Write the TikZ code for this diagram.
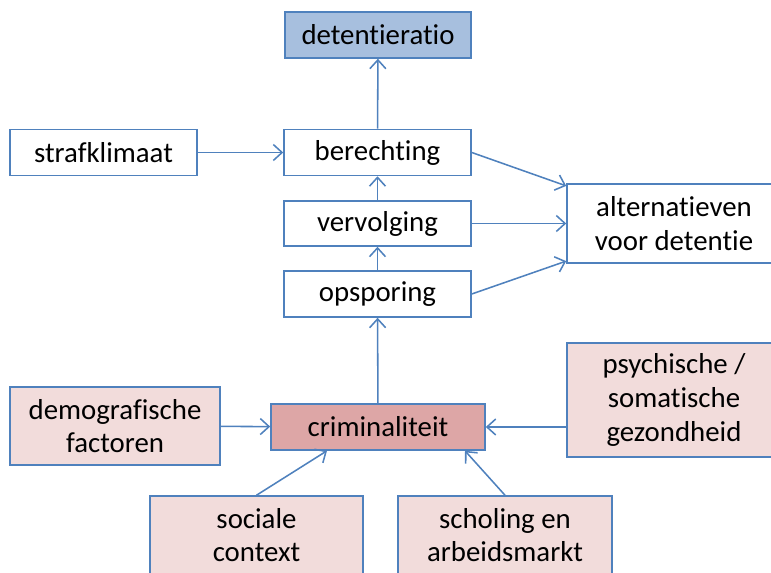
\documentclass[tikz,border=0pt]{standalone}
\usepackage{fontspec}
\setmainfont{Carlito}[Ligatures=NoCommon]
\usetikzlibrary{arrows.meta, positioning}
\definecolor{boxblue}{RGB}{79, 129, 189}
\definecolor{darkfill}{RGB}{167, 191, 222}
\definecolor{crimfill}{RGB}{221, 166, 166}
\definecolor{factfill}{RGB}{242, 220, 219}

\begin{document}
\begin{tikzpicture}[
    box/.style={draw=boxblue, line width=1.1pt, fill=white, align=center,
        inner sep=0pt, minimum width=4.675cm, minimum height=1.15cm,
        font=\fontsize{20.5}{24}\selectfont},
    factor/.style={box, fill=factfill},
    link/.style={draw=boxblue, line width=1.1pt,
        -{Straight Barb[length=2.2mm, width=4mm, line width=1.1pt]}}
]
            \useasboundingbox (0,0) rectangle (19.275,-14.325);

            % Justice chain
            \node[box, fill=darkfill, minimum width=4.65cm] (ratio) at (9.45,-0.875) {detentieratio};
            \node[box] (berechting) at (9.4375,-3.8125) {berechting};
            \node[box, minimum height=1.125cm] (vervolging) at (9.4375,-5.5875) {vervolging};
            \node[box] (opsporing) at (9.4375,-7.35) {opsporing};
            \node[box, minimum width=4.675cm] (klimaat) at (2.5875,-3.8125) {strafklimaat};
            \node[box, minimum width=5.35cm, minimum height=1.975cm] (alternatief) at (16.85,-5.5875) {alternatieven\\voor detentie};

            % Crime and its factors
            \node[box, fill=crimfill, minimum width=5.35cm] (crim) at (9.45,-10.675) {criminaliteit};
            \node[factor, minimum width=5.25cm, minimum height=1.95cm] (demo) at (2.875,-10.65) {demografische\\factoren};
            \node[factor, minimum width=5.35cm, minimum height=2.85cm] (gezond) at (16.85,-10) {psychische /\\somatische\\gezondheid};
            \node[factor, minimum width=5.325cm, minimum height=1.95cm] (sociaal) at (6.4125,-13.375) {sociale\\context};
            \node[factor, minimum width=5.35cm, minimum height=1.95cm] (scholing) at (12.625,-13.375) {scholing en\\arbeidsmarkt};

            % Links
            \draw[link] (berechting) -- (ratio);
            \draw[link] (klimaat) -- (berechting);
            \draw[link] (vervolging) -- (berechting);
            \draw[link] (opsporing) -- (vervolging);
            \draw[link] (crim) -- (opsporing);
            \draw[link] (berechting.east) -- ([yshift=0.94cm]alternatief.west);
            \draw[link] (vervolging.east) -- (alternatief.west);
            \draw[link] (opsporing.east) -- ([yshift=-0.94cm]alternatief.west);
            \draw[link] (demo) -- (crim);
            \draw[link] (gezond.west |- crim) -- (crim);
            \draw[link] (sociaal.north) -- ([xshift=-1.275cm]crim.south);
            \draw[link] (scholing.north) -- ([xshift=2.175cm]crim.south);
        \end{tikzpicture}
\end{document}
